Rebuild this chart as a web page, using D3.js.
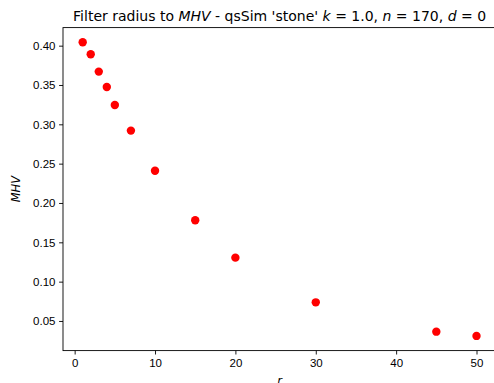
<!DOCTYPE html>
<html>
<head>
<meta charset="utf-8">
<script src="https://cdn.jsdelivr.net/npm/d3@7"></script>
<style>
  body { margin: 0; background: #fff; overflow: hidden; }
  svg { font-family: 'DejaVu Sans', sans-serif; display: block; }
</style>
</head>
<body>
<script>
const radius = [1, 2, 3, 4, 5, 7, 10, 15, 20, 30, 45, 50];
const mhv = [0.4043, 0.389, 0.367, 0.3475, 0.3246, 0.292, 0.241, 0.178, 0.1305, 0.0737, 0.0364, 0.031];
const xTicks = [0, 10, 20, 30, 40, 50];
const yTicks = [0.05, 0.10, 0.15, 0.20, 0.25, 0.30, 0.35, 0.40];

const w = 494;
const h = 383;
const plotLeft = 63, plotTop = 27.6, plotRight = 496.2, plotBottom = 350.6;

const svg = d3.select('body').append('svg').attr('width', w).attr('height', h);

// matplotlib style 5% margins
const xPad = (d3.max(radius) - d3.min(radius)) * 0.05;
const yPad = (d3.max(mhv) - d3.min(mhv)) * 0.05;
const xScale = d3.scaleLinear()
                 .domain([d3.min(radius) - xPad, d3.max(radius) + xPad])
                 .range([plotLeft, plotRight]);
const yScale = d3.scaleLinear()
                 .domain([d3.min(mhv) - yPad, d3.max(mhv) + yPad])
                 .range([plotBottom, plotTop]);

const xAxis = d3.axisBottom(xScale).tickValues(xTicks).tickFormat(d3.format('d')).tickSize(3.9).tickPadding(4).tickSizeOuter(0);
const yAxis = d3.axisLeft(yScale).tickValues(yTicks).tickFormat(d3.format('.2f')).tickSize(3.9).tickPadding(3.6).tickSizeOuter(0);

const gx = svg.append('g').attr('transform', 'translate(0,' + plotBottom + ')').call(xAxis);
const gy = svg.append('g').attr('transform', 'translate(' + plotLeft + ',0)').call(yAxis);
[gx, gy].forEach((g) => {
  g.selectAll('text').style('font-size', '11.5px').style('fill', '#000');
  g.selectAll('line').attr('stroke', '#000').attr('stroke-width', 0.9);
  g.select('.domain').remove();
});

// spines
svg.append('rect')
   .attr('x', plotLeft).attr('y', plotTop)
   .attr('width', plotRight - plotLeft).attr('height', plotBottom - plotTop)
   .attr('fill', 'none').attr('stroke', '#000').attr('stroke-width', 0.9);

svg.selectAll('circle.pt')
   .data(radius)
   .enter()
   .append('circle')
   .attr('class', 'pt')
   .attr('cx', (d) => xScale(d))
   .attr('cy', (d, i) => yScale(mhv[i]))
   .attr('r', 4.2)
   .attr('fill', '#ff0000');

// title with italic math parts
const title = svg.append('text')
                 .attr('x', (plotLeft + plotRight) / 2)
                 .attr('y', 20.5)
                 .attr('text-anchor', 'middle')
                 .style('font-size', '14px');
const parts = [
  ['Filter radius to ', false], ['MHV', true], [" - qsSim 'stone' ", false],
  ['k', true], [' = 1.0, ', false], ['n', true], [' = 170, ', false], ['d', true], [' = 0', false]
];
parts.forEach((p) => {
  title.append('tspan').text(p[0]).style('font-style', p[1] ? 'italic' : 'normal');
});

svg.append('text')
   .text('MHV')
   .attr('transform', 'translate(20,' + ((plotTop + plotBottom) / 2) + ')rotate(-90)')
   .attr('text-anchor', 'middle')
   .style('font-style', 'italic')
   .style('font-size', '11.5px');

svg.append('text')
   .text('r')
   .attr('x', (plotLeft + plotRight) / 2)
   .attr('y', 385)
   .attr('text-anchor', 'middle')
   .style('font-style', 'italic')
   .style('font-size', '11.5px');
</script>
</body>
</html>
